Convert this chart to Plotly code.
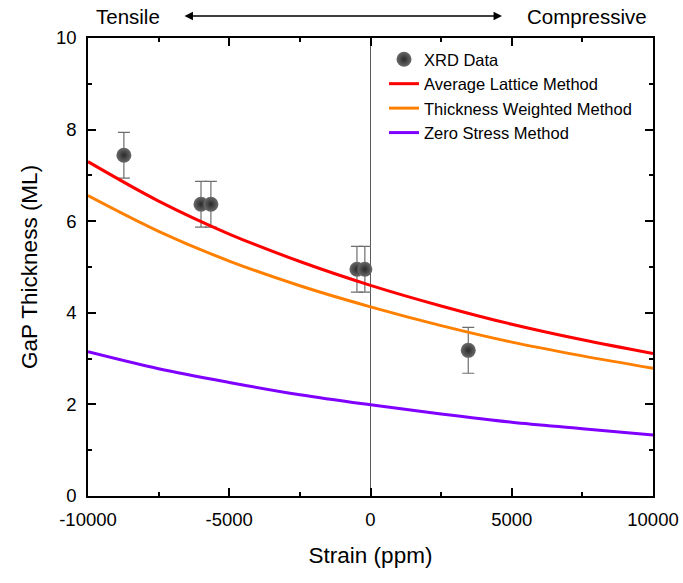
import plotly.graph_objects as go

# ---- data ----
strain_grid = [-10000, -7500, -5000, -2500, 0, 2500, 5000, 7500, 10000]
avg_lattice = [7.30, 6.44, 5.72, 5.12, 4.60, 4.15, 3.75, 3.41, 3.11]
thick_weighted = [6.56, 5.78, 5.13, 4.59, 4.13, 3.72, 3.36, 3.06, 2.79]
zero_stress = [3.15, 2.78, 2.48, 2.21, 1.99, 1.79, 1.61, 1.47, 1.33]

xrd_strain = [-8730, -6000, -5650, -480, -200, 3460]
xrd_thick = [7.44, 6.37, 6.37, 4.95, 4.95, 3.18]
xrd_err = [0.5, 0.5, 0.5, 0.5, 0.5, 0.5]

x_ticks = [-10000, -5000, 0, 5000, 10000]
y_ticks = [0, 2, 4, 6, 8, 10]

FONT = "Liberation Sans, Arial, sans-serif"

fig = go.Figure()

fig.add_trace(go.Scatter(
    x=xrd_strain, y=xrd_thick, mode="markers", name="XRD Data",
    error_y=dict(type="data", array=xrd_err, visible=True, color="#6e6e6e",
                 thickness=1.2, width=6),
    marker=dict(size=15, color="#6a6a6a", line=dict(width=0),
                gradient=dict(type="radial", color="#2a2a2a")),
))
fig.add_trace(go.Scatter(x=strain_grid, y=avg_lattice, mode="lines",
                         name="Average Lattice Method", line=dict(color="#ff0000", width=3, shape="spline")))
fig.add_trace(go.Scatter(x=strain_grid, y=thick_weighted, mode="lines",
                         name="Thickness Weighted Method", line=dict(color="#ff8000", width=3, shape="spline")))
fig.add_trace(go.Scatter(x=strain_grid, y=zero_stress, mode="lines",
                         name="Zero Stress Method", line=dict(color="#8000ff", width=3, shape="spline")))

fig.add_shape(type="line", xref="x", yref="paper", x0=0, x1=0, y0=0, y1=1,
              line=dict(color="#5a5a5a", width=1), layer="below")

axis_common = dict(showgrid=False, zeroline=False, showline=True, linecolor="black",
                   linewidth=1.5, mirror="ticks", ticks="inside", tickcolor="black",
                   tickwidth=1.5, ticklen=8, automargin=False,
                   tickfont=dict(family=FONT, size=18.5, color="black"))

fig.update_xaxes(range=[-10000, 10000], tickvals=x_ticks,
                 ticktext=[str(v) for v in x_ticks],
                 minor=dict(dtick=2500, ticks="inside", ticklen=4, tickcolor="black", tickwidth=1.5),
                 ticklabelstandoff=6,
                 title=dict(text="Strain (ppm)", font=dict(family=FONT, size=22.5, color="black"), standoff=18),
                 **axis_common)
fig.update_yaxes(range=[0, 10], tickvals=y_ticks,
                 minor=dict(dtick=1, ticks="inside", ticklen=4, tickcolor="black", tickwidth=1.5),
                 ticklabelstandoff=6,
                 title=dict(text="GaP Thickness (ML)", font=dict(family=FONT, size=22.5, color="black"), standoff=12),
                 **axis_common)

# plot area page coords: x 88..653, y 38..496
fig.add_annotation(xref="paper", yref="paper", x=(94 - 88) / 565, y=1 + (38 - 17) / 458,
                   text="Tensile", showarrow=False, xanchor="left", yanchor="middle",
                   font=dict(family=FONT, size=20.5, color="black"))
fig.add_annotation(xref="paper", yref="paper", x=(649 - 88) / 565, y=1 + (38 - 17) / 458,
                   text="Compressive", showarrow=False, xanchor="right", yanchor="middle",
                   font=dict(family=FONT, size=20.5, color="black"))
fig.add_annotation(xref="paper", yref="paper", x=(502 - 88) / 565, y=1 + (38 - 16) / 458,
                   ax=(183 - 502), ay=0, axref="pixel", ayref="pixel", text="",
                   showarrow=True, arrowhead=2, arrowside="end+start", arrowsize=1.3,
                   arrowwidth=1.3, arrowcolor="black")

fig.update_layout(
    width=683, height=583,
    margin=dict(l=88, r=30, t=38, b=87),
    paper_bgcolor="white", plot_bgcolor="white",
    font=dict(family=FONT, color="black"),
    showlegend=True,
    legend=dict(x=(384 - 88) / 565, y=1 - (42 - 38) / 458, xanchor="left", yanchor="top",
                bgcolor="rgba(0,0,0,0)", borderwidth=0,
                font=dict(family=FONT, size=16.5, color="black"),
                tracegroupgap=0, itemwidth=30),
)

fig.write_html("out.html", config={"displayModeBar": False},
               post_script="document.body.style.margin='0';")
